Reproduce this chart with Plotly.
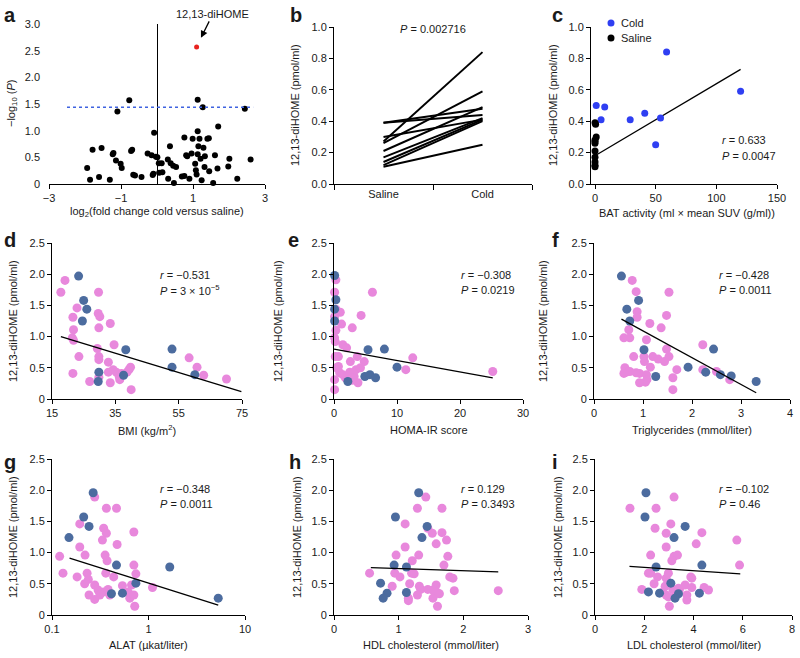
import plotly.graph_objects as go

# ---------------- data ----------------
# a: volcano plot
volcano_x = [-1.94, -1.86, -1.79, -1.61, -1.54, -1.31, -1.23, -1.21, -1.14, -1.10, -1.01, -0.98,
             -0.77, -0.72, -0.69, -0.66, -0.61, -0.43, -0.26, -0.15, -0.10, -0.12, -0.08, -0.03,
             0.01, 0.05, 0.06, 0.13, 0.15, 0.30, 0.31, 0.36, 0.38, 0.45, 0.47, 0.53, 0.69, 0.76,
             0.76, 0.81, 0.84, 0.90, 0.96, 0.99, 1.06, 1.08, 1.10, 1.13, 1.13, 1.13, 1.15, 1.18,
             1.21, 1.24, 1.27, 1.29, 1.32, 1.33, 1.40, 1.44, 1.45, 1.56, 1.61, 1.68, 1.70, 1.98,
             2.01, 2.23, 2.44, 2.60]
volcano_y = [0.30, 0.08, 0.64, 0.13, 0.675, 0.08, 0.56, 0.58, 0.44, 1.36, 0.38, 0.30,
             1.57, 0.62, 0.64, 0.175, 0.16, 0.13, 0.57, 0.54, 0.19, 0.17, 0.96, 0.51,
             0.50, 0.39, 0.21, 0.39, 0.22, 0.46, 0.10, 0.71, 0.39, 0.34, 0.02, 0.32, 0.14, 0.15,
             0.87, 0.54, 0.52, 0.10, 0.57, 0.85, 0.38, 0.26, 0.18, 0.56, 1.58, 0.99, 0.71, 0.85,
             0.475, 0.07, 1.44, 0.68, 0.32, 0.52, 0.85, 0.86, 0.24, 0.02, 0.54, 0.29, 1.08, 0.33,
             0.475, 0.10, 1.41, 0.46]
hit_x = [1.10]
hit_y = [2.57]
threshold_x = [-2.5, 2.67]
threshold_y = [1.44, 1.44]

# b: paired saline / cold
pair_saline = [0.27, 0.26, 0.39, 0.39, 0.30, 0.21, 0.17, 0.14, 0.12, 0.11]
pair_cold = [0.84, 0.59, 0.44, 0.48, 0.41, 0.49, 0.42, 0.41, 0.40, 0.25]

# c: BAT activity
cold_bat = [1, 8, 5, 29, 41, 54, 50, 59, 120]
cold_dihome = [0.50, 0.49, 0.41, 0.41, 0.45, 0.42, 0.25, 0.84, 0.59]
saline_bat = [0, 0.5, 1, 0, 0, 0, 0, 0, 0, 0, 0]
saline_dihome = [0.39, 0.38, 0.30, 0.28, 0.27, 0.26, 0.21, 0.17, 0.14, 0.12, 0.11]
fit_c_x = [0, 120]
fit_c_y = [0.18, 0.73]

# d: BMI
d_blue_x = [23.4, 25.0, 26.0, 24.6, 38.3, 52.9, 52.9, 60.1, 29.8, 29.6, 37.6]
d_blue_y = [1.97, 1.58, 1.44, 1.25, 0.79, 0.80, 0.51, 0.39, 0.43, 0.28, 0.38]
d_pink_x = [17.8, 19.1, 22.9, 21.6, 21.8, 21.4, 21.8, 23.5, 21.6, 29.7, 29.6, 30.1, 29.8, 33.4,
            29.3, 29.8, 29.8, 32.8, 34.6, 26.9, 29.8, 32.8, 33.4, 34.3, 35.3, 36.2, 36.9, 38.7,
            39.3, 39.8, 40.0, 58.3, 60.8, 62.9, 70.1, 36.4]
d_pink_y = [1.71, 1.90, 1.46, 1.31, 1.11, 0.98, 0.94, 0.68, 0.41, 1.71, 1.37, 1.32, 1.14, 1.21,
            0.81, 0.68, 0.63, 0.59, 0.87, 0.28, 0.35, 0.43, 0.26, 0.47, 0.43, 0.36, 0.41, 0.43,
            0.47, 0.51, 0.15, 0.66, 0.51, 0.38, 0.32, 0.31]
fit_d_x = [17.8, 74.8]
fit_d_y = [1.00, 0.12]

# e: HOMA-IR
e_blue_x = [0.1, 0.3, 0.1, 0.1, 5.4, 8.0, 10.0, 2.2, 4.9, 5.7, 6.6]
e_blue_y = [1.98, 1.59, 1.44, 1.25, 0.79, 0.80, 0.51, 0.28, 0.36, 0.39, 0.34]
e_pink_x = [0.3, 0.1, 0.3, 1.0, 0.1, 1.2, 0.3, 0.1, 0.2, 2.9, 4.3, 6.1, 1.4, 2.0, 0.2, 0.7,
            3.7, 2.6, 4.8, 12.5, 11.4, 25.2, 0.1, 0.1, 0.9, 1.4, 1.8, 2.5, 3.2, 3.5, 3.8, 4.2,
            0.7, 0.4, 2.9]
e_pink_y = [1.91, 1.71, 1.44, 1.39, 1.32, 1.20, 1.10, 0.98, 0.92, 1.14, 1.34, 1.71, 0.87, 0.82,
            0.68, 0.68, 0.68, 0.60, 0.60, 0.66, 0.47, 0.44, 0.31, 0.15, 0.42, 0.39, 0.34, 0.43,
            0.36, 0.47, 0.26, 0.50, 0.52, 0.50, 0.30]
fit_e_x = [0, 25.2]
fit_e_y = [0.80, 0.34]

# f: triglycerides
f_blue_x = [0.56, 0.67, 0.73, 0.91, 1.02, 1.26, 1.92, 2.28, 2.44, 2.58, 2.80, 3.31]
f_blue_y = [1.97, 1.44, 1.25, 1.58, 0.79, 0.36, 0.51, 0.43, 0.80, 0.39, 0.37, 0.28]
f_pink_x = [0.78, 0.86, 0.88, 0.88, 1.53, 1.48, 1.37, 1.14, 0.71, 0.61, 0.73, 1.07, 0.81, 1.02,
            1.03, 1.20, 1.31, 1.44, 1.53, 1.48, 2.22, 0.63, 0.66, 0.73, 0.86, 0.93, 1.07, 1.08,
            1.05, 0.93, 1.15, 1.61, 1.61, 1.69, 2.22, 2.50, 2.77, 0.61]
f_pink_y = [1.90, 1.72, 1.40, 1.31, 1.71, 1.34, 1.14, 1.21, 1.11, 0.98, 0.98, 0.95, 0.68, 0.68,
            0.60, 0.68, 0.64, 0.60, 0.68, 0.80, 0.87, 0.50, 0.43, 0.44, 0.42, 0.41, 0.39, 0.31,
            0.27, 0.26, 0.51, 0.34, 0.15, 0.47, 0.47, 0.44, 0.31, 0.41]
fit_f_x = [0.56, 3.31]
fit_f_y = [1.28, 0.10]

# g: ALAT (log axis)
g_blue_x = [0.267, 0.213, 0.242, 0.150, 0.466, 1.66, 0.74, 0.413, 0.537, 5.28]
g_blue_y = [1.96, 1.57, 1.42, 1.24, 0.80, 0.77, 0.51, 0.34, 0.35, 0.27]
g_pink_x = [0.277, 0.366, 0.466, 0.194, 0.343, 0.366, 0.333, 0.705, 0.473, 0.194, 0.120, 0.220,
            0.355, 0.372, 0.705, 0.130, 0.182, 0.231, 0.238, 0.361, 0.436, 0.74, 0.218, 0.277,
            0.30, 0.343, 0.381, 0.242, 0.277, 0.397, 0.537, 0.615, 0.64, 0.667, 0.72, 0.705,
            1.10, 0.313]
g_pink_y = [1.89, 1.71, 1.71, 1.46, 1.39, 1.31, 1.20, 1.33, 1.13, 1.09, 0.94, 0.96,
            0.96, 0.87, 0.80, 0.67, 0.61, 0.67, 0.57, 0.67, 0.61, 0.66, 0.50, 0.48,
            0.40, 0.37, 0.41, 0.32, 0.25, 0.32, 0.47, 0.37, 0.27, 0.48, 0.14, 0.32,
            0.44, 0.32]
fit_g_x = [0.152, 5.28]
fit_g_y = [0.91, 0.16]

# h: HDL cholesterol
h_blue_x = [1.31, 0.95, 1.44, 1.36, 0.93, 1.12, 0.72, 0.82, 0.76, 1.12]
h_blue_y = [1.96, 1.57, 1.42, 1.24, 0.80, 0.77, 0.51, 0.35, 0.27, 0.36]
h_pink_x = [1.42, 1.29, 1.67, 1.10, 1.45, 1.52, 1.67, 1.74, 1.10, 1.58, 1.31, 0.96, 1.76, 1.21,
            1.70, 0.55, 0.94, 1.02, 1.20, 1.24, 1.79, 1.84, 0.90, 1.17, 1.32, 1.34, 1.45, 1.56,
            1.58, 1.61, 1.63, 1.53, 1.15, 1.15, 1.29, 1.60, 1.86, 2.54, 1.53]
h_pink_y = [1.89, 1.71, 1.71, 1.46, 1.39, 1.31, 1.32, 1.20, 1.09, 1.14, 0.96, 0.96, 0.94, 0.87,
            0.80, 0.67, 0.67, 0.61, 0.67, 0.66, 0.61, 0.59, 0.46, 0.50, 0.46, 0.41, 0.41, 0.41,
            0.48, 0.35, 0.34, 0.27, 0.27, 0.23, 0.32, 0.14, 0.39, 0.39, 0.40]
fit_h_x = [0.57, 2.54]
fit_h_y = [0.76, 0.69]

# i: LDL cholesterol
i_blue_x = [2.07, 2.03, 3.66, 3.21, 2.48, 4.34, 3.08, 2.62, 2.17, 3.39, 3.25, 4.24]
i_blue_y = [1.96, 1.57, 1.42, 1.24, 0.77, 0.80, 0.51, 0.35, 0.37, 0.34, 0.27, 0.35]
i_pink_x = [3.21, 1.42, 2.48, 2.44, 3.08, 2.89, 4.34, 5.76, 2.89, 4.11, 2.26, 3.21, 3.35, 3.12,
            5.87, 2.17, 2.26, 2.54, 2.89, 2.98, 3.89, 3.93, 2.40, 2.85, 3.16, 3.43, 3.66, 3.93,
            4.43, 4.61, 1.90, 2.75, 2.89, 2.98, 3.21, 3.73, 3.73, 3.02, 3.39]
i_pink_y = [1.89, 1.71, 1.71, 1.39, 1.46, 1.31, 1.32, 1.20, 1.09, 1.14, 0.96, 0.94, 0.96, 0.87,
            0.80, 0.67, 0.67, 0.61, 0.59, 0.67, 0.61, 0.59, 0.50, 0.46, 0.41, 0.41, 0.48, 0.44,
            0.44, 0.40, 0.41, 0.37, 0.32, 0.29, 0.29, 0.32, 0.24, 0.14, 0.43]
fit_i_x = [1.40, 5.90]
fit_i_y = [0.78, 0.66]

stats = {
    "c": ("<i>r</i> = 0.633", "<i>P</i> = 0.0047"),
    "d": ("<i>r</i> = \u22120.531", "<i>P</i> = 3 \u00d7 10<sup>\u22125</sup>"),
    "e": ("<i>r</i> = \u22120.308", "<i>P</i> = 0.0219"),
    "f": ("<i>r</i> = \u22120.428", "<i>P</i> = 0.0011"),
    "g": ("<i>r</i> = \u22120.348", "<i>P</i> = 0.0011"),
    "h": ("<i>r</i> = 0.129", "<i>P</i> = 0.3493"),
    "i": ("<i>r</i> = \u22120.102", "<i>P</i> = 0.46"),
}

# ---------------- layout helpers ----------------
W, H = 800, 658
FONT = "Liberation Sans, Arial, Helvetica, sans-serif"
PINK = "#e888dc"
STEEL = "#4c6c9f"
BLUE = "#2f3ff2"
TXT = "#1a1a1a"


def fx(px):
    return px / W


def fy(py):
    return 1 - py / H


def axis(x0, x1, **kw):
    d = dict(domain=[fx(x0), fx(x1)], showline=True, linecolor="black", linewidth=1,
             ticks="outside", ticklen=4, tickcolor="black", showgrid=False, zeroline=False,
             automargin=False, tickfont=dict(size=11, color=TXT, family=FONT))
    d.update(kw)
    return d


def yaxis(y0, y1, **kw):
    d = dict(domain=[fy(y1), fy(y0)], showline=True, linecolor="black", linewidth=1,
             ticks="outside", ticklen=4, tickcolor="black", showgrid=False, zeroline=False,
             automargin=False, tickfont=dict(size=11, color=TXT, family=FONT))
    d.update(kw)
    return d


fig = go.Figure()
layout = {}
annotations = []
shapes = []


def note(text, px, py, size=11, anchor="center", angle=0, bold=False):
    annotations.append(dict(
        text=f"<b>{text}</b>" if bold else text, x=fx(px), y=fy(py), xref="paper", yref="paper",
        xanchor=anchor, yanchor="middle", showarrow=False, textangle=angle,
        font=dict(size=size, color=TXT, family=FONT)))


y_ticks_25 = dict(tickvals=[0, 0.5, 1.0, 1.5, 2.0, 2.5], ticktext=["0", "0.5", "1.0", "1.5", "2.0", "2.5"],
                  range=[0, 2.5])
y_ticks_1 = dict(tickvals=[0, 0.2, 0.4, 0.6, 0.8, 1.0], ticktext=["0.0", "0.2", "0.4", "0.6", "0.8", "1.0"],
                 range=[0, 1.0])

# ---------------- panel a ----------------
fig.add_trace(go.Scatter(x=volcano_x, y=volcano_y, mode="markers", xaxis="x", yaxis="y",
                         marker=dict(size=6, color="black"), cliponaxis=False))
fig.add_trace(go.Scatter(x=threshold_x, y=threshold_y, mode="lines", xaxis="x", yaxis="y",
                         line=dict(color="#3f63e0", width=1.5, dash="dot")))
fig.add_trace(go.Scatter(x=hit_x, y=hit_y, mode="markers", xaxis="x", yaxis="y",
                         marker=dict(size=5, color="#e8231f")))
layout["xaxis"] = axis(49, 265, anchor="y", range=[-3, 3], tickvals=[-3, -1, 1, 3],
                       zeroline=True, zerolinecolor="black", zerolinewidth=1)
layout["yaxis"] = yaxis(24, 184, anchor="x", range=[0, 3], showline=False, ticks="",
                        tickvals=[0, 0.5, 1.0, 1.5, 2.0, 2.5, 3.0],
                        ticktext=["0", "0.5", "1.0", "1.5", "2.0", "2.5", "3.0"], ticklabelstandoff=8)
annotations.append(dict(text="12,13-diHOME", x=1.22, y=2.74, xref="x", yref="y", ax=12, ay=-24,
                        showarrow=True, arrowhead=2, arrowsize=1.1, arrowwidth=1.3, arrowcolor="black",
                        font=dict(size=11, color=TXT, family=FONT)))
note("log<sub>2</sub>(fold change cold versus saline)", 157, 212)
note("\u2212log<sub>10</sub> (<i>P</i>)", 12, 104, angle=-90)
note("a", 10, 15, size=20, bold=True)

# ---------------- panel b ----------------
for s, c in zip(pair_saline, pair_cold):
    fig.add_trace(go.Scatter(x=["Saline", "Cold"], y=[s, c], mode="lines", xaxis="x2", yaxis="y2",
                             line=dict(color="black", width=2)))
layout["xaxis2"] = axis(334, 532, anchor="y2", type="category", range=[-0.5, 1.5],
                        tickson="boundaries", ticklen=5)
layout["yaxis2"] = yaxis(27, 184, anchor="x2", **y_ticks_1)
note("<i>P</i> = 0.002716", 433, 29)
note("12,13-diHOME (pmol/ml)", 295, 105, angle=-90)
note("b", 296, 15, size=20, bold=True)

# ---------------- panel c ----------------
fig.add_trace(go.Scatter(x=fit_c_x, y=fit_c_y, mode="lines", xaxis="x3", yaxis="y3",
                         line=dict(color="black", width=1.3)))
fig.add_trace(go.Scatter(x=cold_bat, y=cold_dihome, mode="markers", xaxis="x3", yaxis="y3",
                         marker=dict(size=7, color=BLUE)))
fig.add_trace(go.Scatter(x=saline_bat, y=saline_dihome, mode="markers", xaxis="x3", yaxis="y3",
                         marker=dict(size=7, color="black"), cliponaxis=False))
layout["xaxis3"] = axis(591, 777, anchor="y3", range=[-3.3, 150], tickvals=[0, 50, 100, 150])
layout["yaxis3"] = yaxis(27, 184, anchor="x3", **y_ticks_1)
shapes.append(dict(type="circle", xref="paper", yref="paper", x0=fx(607.5), x1=fx(614.5),
                   y0=fy(26.5), y1=fy(19.5), fillcolor=BLUE, line=dict(width=0)))
shapes.append(dict(type="circle", xref="paper", yref="paper", x0=fx(607.5), x1=fx(614.5),
                   y0=fy(41.5), y1=fy(34.5), fillcolor="black", line=dict(width=0)))
note("Cold", 619, 23, anchor="left")
note("Saline", 619, 38, anchor="left")
note(stats["c"][0], 720, 140, anchor="left")
note(stats["c"][1], 720, 156, anchor="left")
note("BAT activity (ml \u00d7 mean SUV (g/ml))", 687, 213)
note("12,13-diHOME (pmol/ml)", 553, 105, angle=-90)
note("c", 557, 15, size=20, bold=True)

# ---------------- panels d-i ----------------
panels = [
    # key, axis no, x-domain px, y-domain px, data, fit, x-axis props, xtitle, xtitle y, ytitle x, letter pos, stats x, stats y
    ("d", 4, (52, 242), (243, 399), (d_pink_x, d_pink_y, d_blue_x, d_blue_y), (fit_d_x, fit_d_y),
     dict(range=[15, 75], tickvals=[15, 35, 55, 75]), "BMI (kg/m<sup>2</sup>)", 430, 13, (10, 240), 158, 275),
    ("e", 5, (334, 523), (243, 399), (e_pink_x, e_pink_y, e_blue_x, e_blue_y), (fit_e_x, fit_e_y),
     dict(range=[0, 30], tickvals=[0, 10, 20, 30]), "HOMA-IR score", 430, 278, (293, 240), 459, 275),
    ("f", 6, (594, 790), (243, 399), (f_pink_x, f_pink_y, f_blue_x, f_blue_y), (fit_f_x, fit_f_y),
     dict(range=[0, 4], tickvals=[0, 1, 2, 3, 4]), "Triglycerides (mmol/liter)", 430, 543, (555, 240), 717, 275),
    ("g", 7, (52, 245), (459, 615), (g_pink_x, g_pink_y, g_blue_x, g_blue_y), (fit_g_x, fit_g_y),
     dict(type="log", range=[-1, 1], tickvals=[0.1, 1, 10], ticktext=["0.1", "1", "10"]),
     "ALAT (\u00b5kat/liter)", 645, 13, (10, 462), 158, 489),
    ("h", 8, (334, 528), (459, 615), (h_pink_x, h_pink_y, h_blue_x, h_blue_y), (fit_h_x, fit_h_y),
     dict(range=[0, 3], tickvals=[0, 1, 2, 3]), "HDL cholesterol (mmol/liter)", 645, 297, (295, 462), 459, 489),
    ("i", 9, (595, 792), (459, 615), (i_pink_x, i_pink_y, i_blue_x, i_blue_y), (fit_i_x, fit_i_y),
     dict(range=[0, 8], tickvals=[0, 2, 4, 6, 8]), "LDL cholesterol (mmol/liter)", 645, 558, (555, 462), 717, 489),
]

for key, n, (x0, x1), (y0, y1), (px_, py_, bx_, by_), (lx, ly), xprops, xtitle, xt_y, yt_x, letter, sx, sy in panels:
    xa, ya = f"x{n}", f"y{n}"
    fig.add_trace(go.Scatter(x=px_, y=py_, mode="markers", xaxis=xa, yaxis=ya, cliponaxis=False,
                             marker=dict(size=9, color=PINK, line=dict(width=0))))
    fig.add_trace(go.Scatter(x=bx_, y=by_, mode="markers", xaxis=xa, yaxis=ya, cliponaxis=False,
                             marker=dict(size=9, color=STEEL, line=dict(width=0))))
    fig.add_trace(go.Scatter(x=lx, y=ly, mode="lines", xaxis=xa, yaxis=ya,
                             line=dict(color="black", width=1.3)))
    layout[f"xaxis{n}"] = axis(x0, x1, anchor=ya, **xprops)
    layout[f"yaxis{n}"] = yaxis(y0, y1, anchor=xa, **y_ticks_25)
    note(xtitle, (x0 + x1) / 2, xt_y)
    note("12,13-diHOME (pmol/ml)", yt_x, (y0 + y1) / 2, angle=-90)
    note(key, letter[0], letter[1], size=20, bold=True)
    note(stats[key][0], sx, sy, anchor="left")
    note(stats[key][1], sx, sy + 15, anchor="left")

fig.update_layout(
    width=W, height=H, margin=dict(l=0, r=0, t=0, b=0),
    paper_bgcolor="white", plot_bgcolor="white", showlegend=False,
    font=dict(family=FONT, size=11, color=TXT),
    annotations=annotations, shapes=shapes, **layout)

# drop the default 8px page margin so the figure sits at the window's top-left corner
fig.write_html("out.html", config={"displayModeBar": False},
               post_script="document.body.style.margin='0';")
